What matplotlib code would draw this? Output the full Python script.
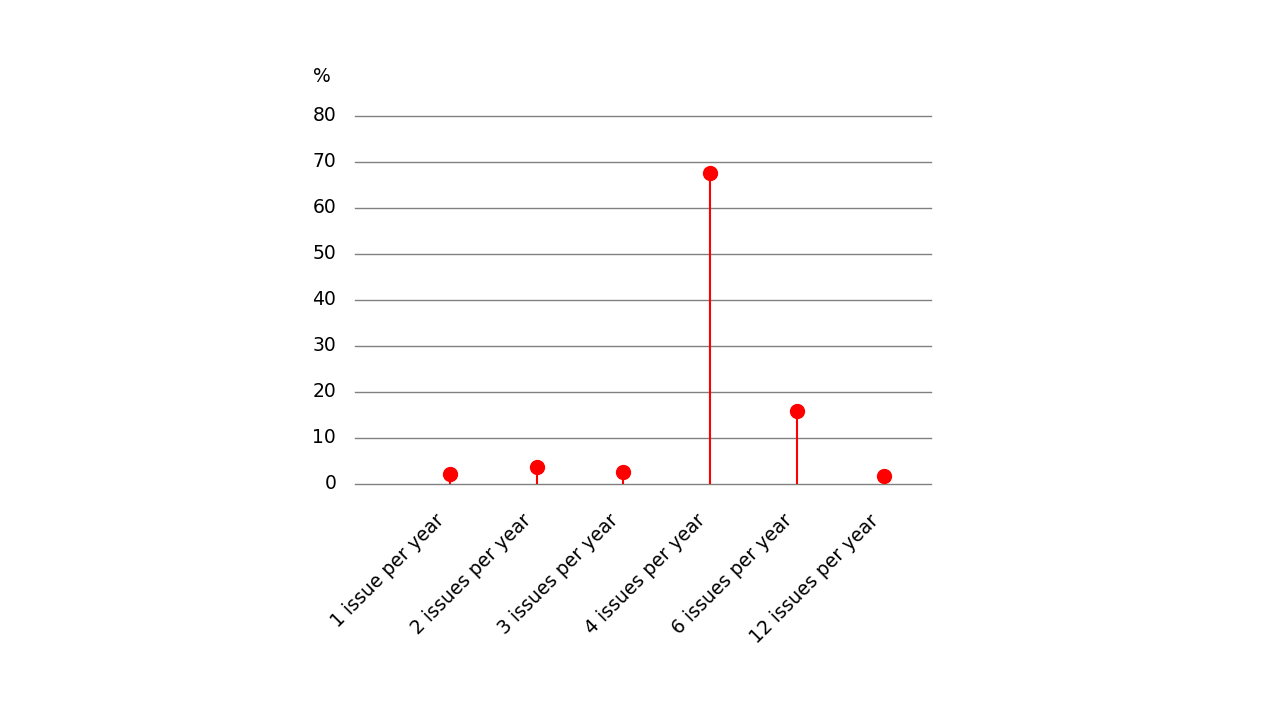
import numpy as np
from matplotlib import pyplot as plt
from matplotlib.transforms import ScaledTranslation

categories = ["1 issue per year", "2 issues per year", "3 issues per year",
              "4 issues per year", "6 issues per year", "12 issues per year"]
values = [2.2, 3.7, 2.7, 67.6, 15.9, 1.7]
y_ticks = [0, 10, 20, 30, 40, 50, 60, 70, 80]

red = "#ff0000"

fig = plt.figure(figsize=(12.8, 7.2), dpi=100)
ax = fig.add_axes([355 / 1280, 1 - 484 / 720, 576 / 1280, 368 / 720])

x = np.arange(len(categories))
ax.vlines(x, 0, values, color=red, linewidth=1.5, zorder=3)
ax.plot(x, values, 'o', color=red, markersize=10, zorder=4, clip_on=False)

ax.set_xlim(-1.09, 5.54)
ax.set_ylim(0, 80)
ax.set_yticks(y_ticks)
ax.set_yticklabels([str(t) for t in y_ticks], fontsize=13.5)
ax.set_xticks(x)
ax.set_xticklabels(categories, fontsize=13.5, rotation=45, ha='right',
                   va='baseline', rotation_mode='anchor')
ax.tick_params(axis='y', length=0, pad=13.5)
ax.tick_params(axis='x', length=0, pad=27)

shift = ScaledTranslation(-3 / 72, 0, fig.dpi_scale_trans)
for lab in ax.get_xticklabels():
    lab.set_transform(lab.get_transform() + shift)
up = ScaledTranslation(0, 1.5 / 72, fig.dpi_scale_trans)
for lab in ax.get_yticklabels():
    lab.set_transform(lab.get_transform() + up)

ax.grid(axis='y', color='#808080', linewidth=1)
for line in ax.get_ygridlines():
    line.set_clip_on(False)
ax.set_axisbelow(True)
for s in ax.spines.values():
    s.set_visible(False)

fig.text(313 / 1280, 1 - 76 / 720, "%", fontsize=13.5, va='center', ha='left')

fig.savefig("out.png", dpi=100)
